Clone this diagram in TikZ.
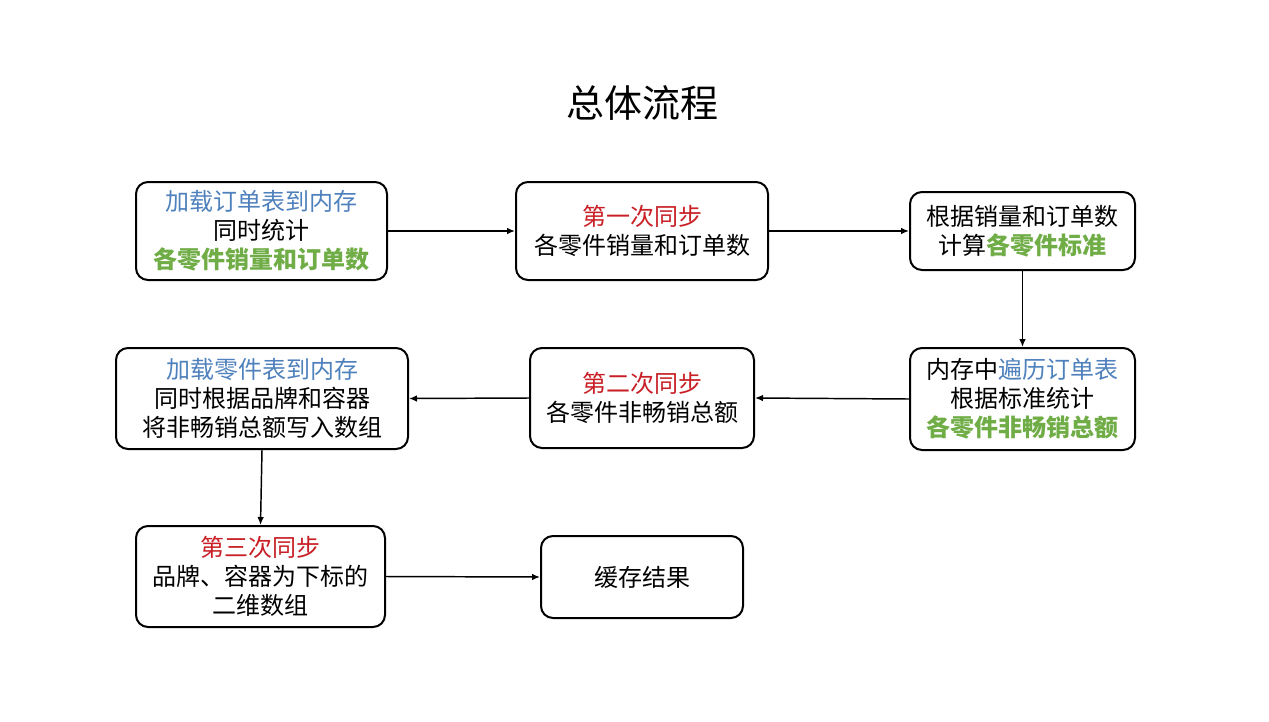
\documentclass[tikz,border=0pt]{standalone}
\usepackage{fontspec}
\setmainfont{Noto Sans CJK SC}
\newfontfamily\cjk{Noto Sans CJK SC}
\usetikzlibrary{arrows.meta}
\definecolor{cblue}{RGB}{79,129,189}
\definecolor{cred}{RGB}{200,32,38}
\definecolor{cgreen}{RGB}{112,173,71}
\newcommand{\bl}[1]{\textcolor{cblue}{#1}}
\newcommand{\rd}[1]{\textcolor{cred}{#1}}
\newcommand{\gr}[1]{\textcolor{cgreen}{\bfseries #1}}
\begin{document}
\begin{tikzpicture}[x=0.75pt,y=-0.75pt,
  box/.style={draw=black,line width=1.5pt,rounded corners=9pt,align=center,
    inner sep=0pt,font=\cjk\fontsize{18}{21.75}\selectfont,fill=white},
  conn/.style={-{Latex[length=6pt,width=5pt]},line width=1.1pt}]
\useasboundingbox[fill=white] (0,0) rectangle (1269,721);
\node[font=\cjk\fontsize{28.5}{30}\selectfont] (title) at (642,103) {总体流程};
\node[box,minimum width=251*0.75pt,minimum height=98*0.75pt] (a) at (261.5,231)
  {\bl{加载订单表到内存}\\同时统计\\\gr{各零件销量和订单数}};
\node[box,minimum width=252*0.75pt,minimum height=98*0.75pt] (b) at (642,231)
  {\rd{第一次同步}\\各零件销量和订单数};
\node[box,minimum width=225*0.75pt,minimum height=78*0.75pt] (c) at (1022.5,231)
  {根据销量和订单数\\计算\gr{各零件标准}};
\node[box,minimum width=225*0.75pt,minimum height=102*0.75pt] (d) at (1022.5,399)
  {内存中\bl{遍历订单表}\\根据标准统计\\\gr{各零件非畅销总额}};
\node[box,minimum width=224*0.75pt,minimum height=100*0.75pt] (e) at (642,398)
  {\rd{第二次同步}\\各零件非畅销总额};
\node[box,minimum width=292*0.75pt,minimum height=101*0.75pt] (f) at (262,398.5)
  {\bl{加载零件表到内存}\\同时根据品牌和容器\\将非畅销总额写入数组};
\node[box,minimum width=249*0.75pt,minimum height=101*0.75pt] (g) at (260.5,576.5)
  {\rd{第三次同步}\\品牌、容器为下标的\\二维数组};
\node[box,minimum width=202*0.75pt,minimum height=82*0.75pt] (h) at (642,577)
  {缓存结果};
\draw[conn] (a.east) -- (b.west);
\draw[conn] (b.east) -- (c.west);
\draw[conn] (c.south) -- (d.north);
\draw[conn] (d.west) -- (e.east);
\draw[conn] (e.west) -- (f.east);
\draw[conn] (f.south) -- (g.north);
\draw[conn] (g.east) -- (h.west);
\end{tikzpicture}
\end{document}
